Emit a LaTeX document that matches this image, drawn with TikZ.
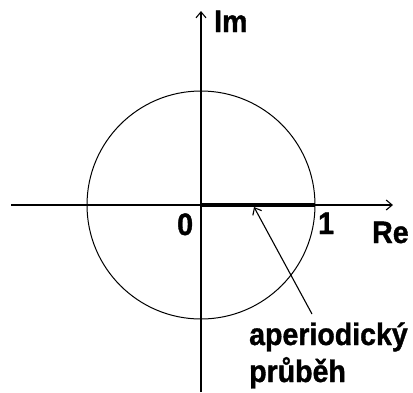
\documentclass[tikz,border=0pt]{standalone}
\usepackage{fontspec}
\setmainfont{Liberation Sans}
\newfontfamily\lblfont[FakeStretch=0.92,BoldFeatures={FakeBold=1.2}]{Liberation Sans}
\usetikzlibrary{arrows.meta}
\begin{document}
\begin{tikzpicture}[x=1pt,y=-1pt,
  axis/.style={line width=1.1pt,-{Straight Barb[length=6pt,width=10pt,line width=1.1pt]}},
  lbl/.style={font=\lblfont\fontsize{31}{36}\selectfont\bfseries,inner sep=0pt}]
\useasboundingbox (0,0) rectangle (413,392);
\coordinate (O) at (201,205);
\coordinate (xs) at (11,205);
\coordinate (xe) at (393,205);
\coordinate (ys) at (201,392);
\coordinate (ye) at (201,11);
\coordinate (one) at (315,205);
\coordinate (tip) at (254,207);
\coordinate (tail) at (312,314);
\draw[line width=1pt] (O) circle (114);
\draw[axis] (xs) -- (xe);
\draw[axis] (ys) -- (ye);
\draw[line width=4pt] (O) -- (one);
\draw[line width=1.1pt,-{Straight Barb[length=6pt,width=10pt,line width=1.1pt]}] (tail) -- (tip);
\node[lbl,anchor=base west] (lim) at (214,32) {Im};
\node[lbl,anchor=base west] (l0) at (177,235) {0};
\node[lbl,anchor=base west] (l1) at (318,234) {1};
\node[lbl,anchor=base west] (lre) at (372,243) {Re};
\node[lbl,anchor=base west] (lap) at (249,345) {aperiodický};
\node[lbl,anchor=base west] (lpr) at (249,382) {průběh};
\end{tikzpicture}
\end{document}
